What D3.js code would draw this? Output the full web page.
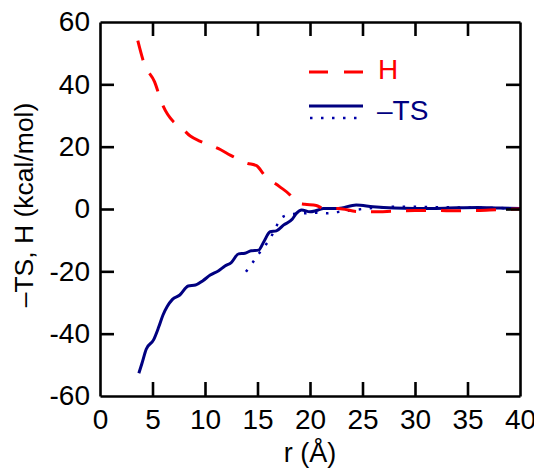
<!DOCTYPE html>
<html>
<head>
<meta charset="utf-8">
<script src="https://cdn.jsdelivr.net/npm/d3@7"></script>
<style>
  body { margin: 0; background: #fff; }
  text { font-family: "Liberation Sans", Arial, sans-serif; }
</style>
</head>
<body>
<svg width="534" height="470"></svg>
<script>
// H (enthalpy) curve
var rH = [3.6, 4.2, 5.2, 5.9, 7.0, 7.6, 8.6, 9.5, 10.5, 11.5, 12.4, 14.0, 14.9, 15.7, 17.1, 18.1, 18.7, 19.5, 20.6, 21.3, 22.7, 24.5, 26, 28, 30, 32, 34, 36, 38, 40];
var vH = [54.0, 46.7, 40.8, 33.9, 28.0, 26.6, 23.4, 21.8, 20.5, 19.0, 17.3, 14.7, 13.9, 10.7, 7.2, 4.5, 2.0, 1.5, 1.1, 0.2, 0.2, -0.8, -0.9, -0.7, -0.5, -0.5, -0.6, -0.5, -0.2, 0];

// -TS solid curve
var rT = [3.7, 4.0, 4.4, 5.1, 5.6, 6.0, 6.4, 6.9, 7.6, 8.4, 9.1, 9.8, 10.5, 11.3, 11.9, 12.5, 13.2, 13.8, 14.4, 15.1, 15.6, 16.2, 16.8, 17.5, 18.3, 18.7, 19.2, 20.0, 20.6, 21.3, 22.7, 24.4, 26, 28, 30, 32, 34, 36, 38, 40];
var vT = [-52.7, -49.5, -45.0, -42.0, -37.8, -34.0, -31.3, -29.0, -27.6, -24.7, -24.4, -23.0, -21.2, -19.8, -18.3, -17.2, -14.4, -14.2, -13.4, -13.2, -10.5, -7.3, -7.0, -5.1, -3.3, -1.4, -0.3, -0.9, -0.5, 0.2, 0.2, 1.3, 0.7, 0.3, 0.2, 0.2, 0.4, 0.5, 0.3, 0.2];

// -TS dotted curve
var rD = [13.9, 14.5, 15.1, 15.7, 16.3, 16.8, 17.4, 18.4, 19.4, 20.5, 21.6, 22.6, 23.7, 25, 28, 30, 32, 34, 36, 38, 40];
var vD = [-20.1, -17.4, -14.5, -11.9, -8.9, -5.5, -2.5, -1.6, -1.4, -1.2, -1.4, -1.0, -0.5, 0, 0.7, 0.7, 0.6, 0.5, 0.4, 0.3, 0.2];

var xTicks = [0, 5, 10, 15, 20, 25, 30, 35, 40];
var yTicks = [-60, -40, -20, 0, 20, 40, 60];

var svg = d3.select("svg");
var pLeft = 100, pRight = 520, pTop = 22, pBottom = 396;
var fs = "28px";

var xScale = d3.scaleLinear().domain([0, 40]).range([pLeft, pRight]);
var yScale = d3.scaleLinear().domain([-60, 60]).range([pBottom, pTop]);

function zip(a, b) { return a.map(function(v, i) { return [v, b[i]]; }); }

svg.append("clipPath").attr("id", "clip")
  .append("rect").attr("x", pLeft).attr("y", pTop)
  .attr("width", pRight - pLeft).attr("height", pBottom - pTop);

var line = d3.line()
  .x(function(d) { return xScale(d[0]); })
  .y(function(d) { return yScale(d[1]); })
  .curve(d3.curveMonotoneX);

var g = svg.append("g").attr("clip-path", "url(#clip)");

g.append("path").datum(zip(rD, vD))
  .attr("fill", "none").attr("stroke", "#0000a8")
  .attr("stroke-width", 2.5).attr("stroke-dasharray", "2.5,8.5")
  .attr("d", line);

g.append("path").datum(zip(rT, vT))
  .attr("fill", "none").attr("stroke", "#000080")
  .attr("stroke-width", 3).attr("d", line);

g.append("path").datum(zip(rH, vH))
  .attr("fill", "none").attr("stroke", "#ff0000")
  .attr("stroke-width", 3).attr("stroke-dasharray", "20,15")
  .attr("d", line);

// axes on all four sides, ticks inward
var tl = 14;
var fmt = function(d) { return String(d); };
var axB = svg.append("g").attr("transform", "translate(0," + pBottom + ")")
  .call(d3.axisBottom(xScale).tickValues(xTicks).tickSizeInner(-tl).tickSizeOuter(0).tickPadding(13).tickFormat(fmt));
var axT = svg.append("g").attr("transform", "translate(0," + pTop + ")")
  .call(d3.axisTop(xScale).tickValues(xTicks).tickSizeInner(-tl).tickSizeOuter(0).tickFormat(""));
var axL = svg.append("g").attr("transform", "translate(" + pLeft + ",0)")
  .call(d3.axisLeft(yScale).tickValues(yTicks).tickSizeInner(-tl).tickSizeOuter(0).tickPadding(10).tickFormat(fmt));
var axR = svg.append("g").attr("transform", "translate(" + pRight + ",0)")
  .call(d3.axisRight(yScale).tickValues(yTicks).tickSizeInner(-tl).tickSizeOuter(0).tickFormat(""));

[axB, axT, axL, axR].forEach(function(a) {
  a.selectAll("path.domain").attr("stroke", "#000").attr("stroke-width", 2.6);
  a.selectAll(".tick line").attr("stroke", "#000").attr("stroke-width", 2.6);
  a.selectAll(".tick text").attr("fill", "#000").style("font-size", fs)
    .style("font-family", "'Liberation Sans', Arial, sans-serif");
});
// first/last ticks overlap the frame
axB.selectAll(".tick").filter(function(d) { return d === 0 || d === 40; }).select("line").remove();
axT.selectAll(".tick").filter(function(d) { return d === 0 || d === 40; }).select("line").remove();
axL.selectAll(".tick").filter(function(d) { return d === -60 || d === 60; }).select("line").remove();
axR.selectAll(".tick").filter(function(d) { return d === -60 || d === 60; }).select("line").remove();

// axis titles
svg.append("text").attr("x", 310).attr("y", 462)
  .attr("text-anchor", "middle").style("font-size", "27px").text("r (Å)");
svg.append("text")
  .attr("transform", "translate(33,205) rotate(-90)")
  .attr("text-anchor", "middle").style("font-size", "26.5px").text("\u2013TS, H (kcal/mol)");

// legend
var legend = svg.append("g");
legend.append("line").attr("x1", 309).attr("x2", 363).attr("y1", 72).attr("y2", 72)
  .attr("stroke", "#ff0000").attr("stroke-width", 3).attr("stroke-dasharray", "19,16");
legend.append("text").attr("x", 378).attr("y", 79).attr("fill", "#ff0000")
  .style("font-size", fs).text("H");
legend.append("line").attr("x1", 309).attr("x2", 363).attr("y1", 106).attr("y2", 106)
  .attr("stroke", "#000080").attr("stroke-width", 3);
legend.append("line").attr("x1", 310).attr("x2", 363).attr("y1", 118).attr("y2", 118)
  .attr("stroke", "#0000a8").attr("stroke-width", 2.5).attr("stroke-dasharray", "2.5,8.5");
legend.append("text").attr("x", 377).attr("y", 120).attr("fill", "#000080")
  .style("font-size", fs).text("\u2013TS");
</script>
</body>
</html>
